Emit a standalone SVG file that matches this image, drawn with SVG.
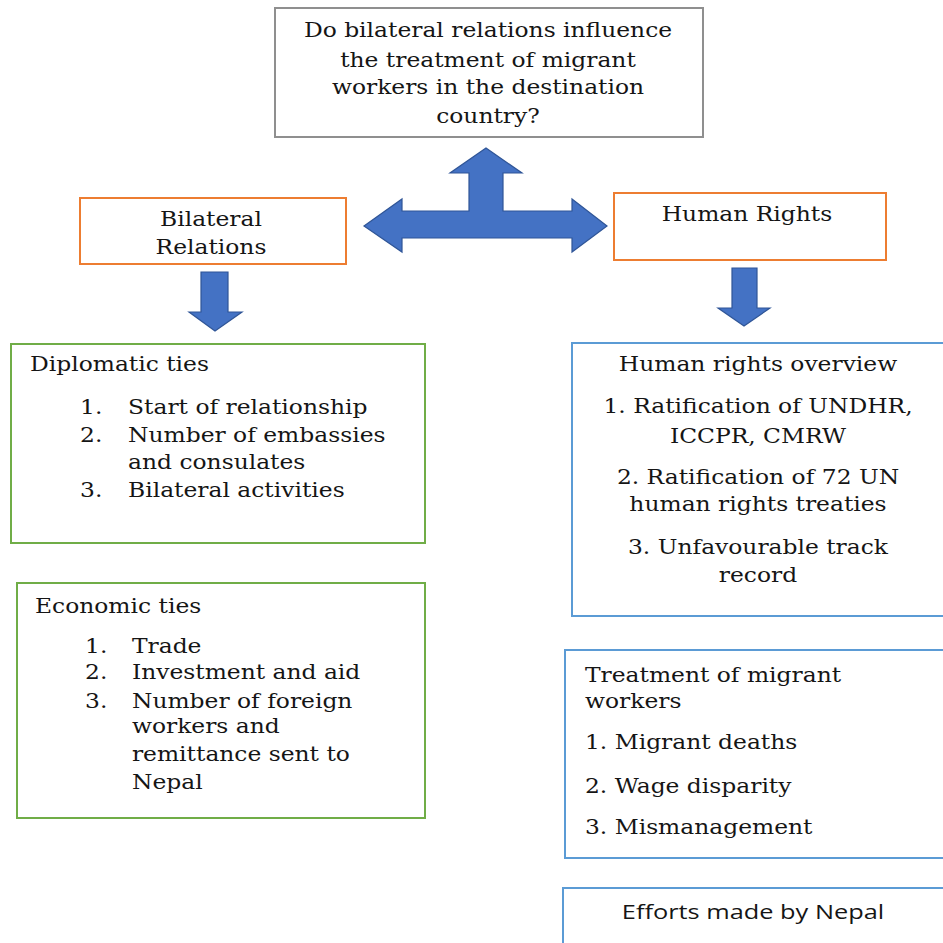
<svg xmlns="http://www.w3.org/2000/svg" width="943" height="943" viewBox="0 0 943 943">
<style>
  .box { fill: #ffffff; stroke-width: 2; }
  .gray { stroke: #8f8f8f; }
  .orange { stroke: #ED7D31; }
  .green { stroke: #70AD47; }
  .blue { stroke: #5B9BD5; }
  .arrow { fill: #4472C4; stroke: #2F5597; stroke-width: 1.2; stroke-linejoin: miter; }
  text { font-family: "DejaVu Serif", "Liberation Serif", serif; font-size: 19.5px; fill: #151515; }
  .c { text-anchor: middle; }
  .sans { font-family: "Open Sans", "DejaVu Sans", sans-serif; font-size: 19.5px; }
</style>
<rect width="943" height="943" fill="#ffffff"/>

<g id="question">
  <rect class="box gray" x="275" y="8" width="428" height="129"/>
  <g transform="matrix(1.2,0,0,1,-97.6,0)">
    <text class="c" x="488" y="37">Do bilateral relations influence</text>
    <text class="c" x="488" y="67">the treatment of migrant</text>
    <text class="c" x="488" y="94">workers in the destination</text>
    <text class="c" x="488" y="123">country?</text>
  </g>
</g>

<g id="bilateral">
  <rect class="box orange" x="80" y="198" width="266" height="66"/>
  <g transform="matrix(1.2,0,0,1,-42.2,0)">
    <text class="c" x="211" y="226">Bilateral</text>
    <text class="c" x="211" y="254">Relations</text>
  </g>
</g>

<g id="humanrights">
  <rect class="box orange" x="614" y="193" width="272" height="67"/>
  <g transform="matrix(1.2,0,0,1,-149.4,0)">
    <text class="c" x="747" y="221">Human Rights</text>
  </g>
</g>

<g id="diplomatic">
  <rect class="box green" x="11" y="344" width="414" height="199"/>
  <g transform="matrix(1.2,0,0,1,-6,0)">
    <text x="30" y="371">Diplomatic ties</text>
    <text x="71.7" y="414">1.</text><text x="111.7" y="414">Start of relationship</text>
    <text x="71.7" y="442">2.</text><text x="111.7" y="442">Number of embassies</text>
    <text x="111.7" y="469">and consulates</text>
    <text x="71.7" y="497">3.</text><text x="111.7" y="497">Bilateral activities</text>
  </g>
</g>

<g id="economic">
  <rect class="box green" x="17" y="583" width="408" height="235"/>
  <g transform="matrix(1.2,0,0,1,-7,0)">
    <text x="35" y="613">Economic ties</text>
    <text x="76.7" y="653">1.</text><text x="115.8" y="653">Trade</text>
    <text x="76.7" y="679">2.</text><text x="115.8" y="679">Investment and aid</text>
    <text x="76.7" y="708">3.</text><text x="115.8" y="708">Number of foreign</text>
    <text x="115.8" y="733">workers and</text>
    <text x="115.8" y="761">remittance sent to</text>
    <text x="115.8" y="789">Nepal</text>
  </g>
</g>

<g id="overview">
  <rect class="box blue" x="572" y="343" width="380" height="273"/>
  <g transform="matrix(1.2,0,0,1,-151.6,0)">
    <text class="c" x="758" y="371">Human rights overview</text>
    <text class="c" x="758" y="413">1. Ratification of UNDHR,</text>
    <text class="c" x="758" y="443">ICCPR, CMRW</text>
    <text class="c" x="758" y="484">2. Ratification of 72 UN</text>
    <text class="c" x="758" y="511">human rights treaties</text>
    <text class="c" x="758" y="554">3. Unfavourable track</text>
    <text class="c" x="758" y="582">record</text>
  </g>
</g>

<g id="treatment">
  <rect class="box blue" x="565" y="650" width="390" height="208"/>
  <g transform="matrix(1.2,0,0,1,-117,0)">
    <text x="585" y="682">Treatment of migrant</text>
    <text x="585" y="708">workers</text>
    <text x="585" y="749">1. Migrant deaths</text>
    <text x="585" y="793">2. Wage disparity</text>
    <text x="585" y="834">3. Mismanagement</text>
  </g>
</g>

<g id="efforts">
  <rect class="box blue" x="563" y="888" width="392" height="70"/>
  <g transform="matrix(1.3,0,0,1,-225.9,0)">
    <text class="c sans" x="753" y="919">Efforts made by Nepal</text>
  </g>
</g>

<g id="connectors">
  <path class="arrow" d="M486,148 L522,173 L503,173 L503,211 L572,211 L572,199 L607,226 L572,252 L572,238 L402,238 L402,252 L364,226 L402,199 L402,211 L469,211 L469,173 L450,173 Z"/>
  <path class="arrow" d="M201,272 L228,272 L228,312 L242,312 L215,331 L189,312 L201,312 Z"/>
  <path class="arrow" d="M732,268 L757,268 L757,308 L770,308 L744,326 L718,308 L732,308 Z"/>
</g>
</svg>
